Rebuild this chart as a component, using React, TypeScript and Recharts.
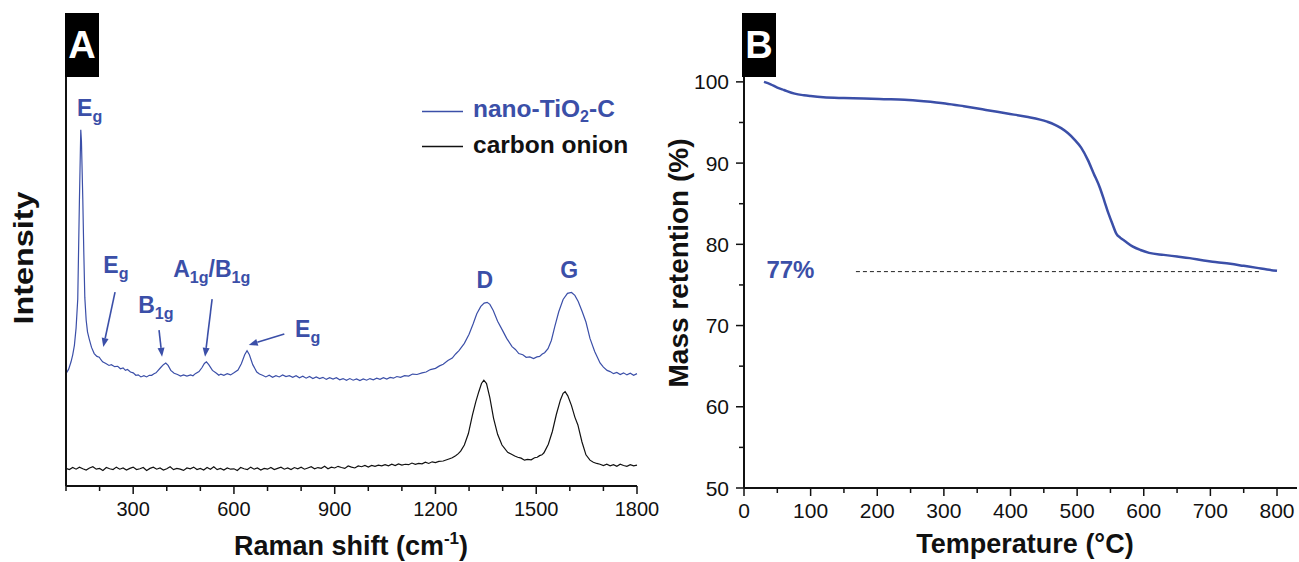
import { LineChart, Line, XAxis, YAxis, ReferenceLine, ReferenceDot } from 'recharts'

const BLUE = '#3b4fa8'
const FONT = "'Liberation Sans', Arial, Helvetica, sans-serif"

// Raman spectra — shift in cm-1, intensity in arbitrary units (stacked)
const tioShift = [
  100, 108, 115, 120, 125, 130, 135, 140, 144, 146, 150, 153, 156, 160, 164, 169, 176, 184, 192, 199,
  204, 209, 220, 228, 235, 245, 254, 262, 270, 277, 283, 292, 300, 308, 315, 323, 332, 340, 348, 355,
  362, 368, 382, 390, 397, 404, 412, 422, 432, 441, 450, 460, 471, 478, 485, 496, 505, 512, 518, 525,
  536, 548, 555, 561, 570, 580, 590, 600, 612, 622, 632, 639, 646, 656, 668, 676, 685, 695, 705, 715,
  725, 735, 745, 755, 765, 775, 785, 795, 805, 815, 825, 835, 845, 855, 865, 875, 885, 895, 905, 915,
  925, 935, 945, 955, 965, 975, 985, 995, 1005, 1015, 1025, 1035, 1045, 1055, 1065, 1075, 1085, 1096, 1108, 1120,
  1132, 1145, 1160, 1172, 1185, 1200, 1212, 1223, 1237, 1250, 1260, 1270, 1286, 1300, 1312, 1323, 1335, 1345, 1354, 1362,
  1372, 1385, 1398, 1412, 1428, 1438, 1448, 1460, 1470, 1481, 1492, 1502, 1510, 1518, 1525, 1535, 1545, 1555, 1567, 1580,
  1593, 1605, 1615, 1625, 1637, 1648, 1660, 1674, 1690, 1700, 1711, 1720, 1730, 1740, 1750, 1760, 1770, 1780, 1790, 1800,
]
const tioIntensity = [
  27.4, 28.5, 30.3, 32.0, 34.3, 38.5, 45.6, 69.9, 86.9, 84.0, 70.0, 57.0, 46.0, 40.5, 37.6, 35.9, 33.8, 32.3, 31.6, 31.4,
  30.8, 30.3, 29.8, 29.4, 29.6, 29.1, 29.2, 28.6, 28.8, 28.2, 28.4, 27.8, 27.6, 27.0, 27.1, 26.6, 26.9, 26.6, 27.0, 27.0,
  27.4, 27.6, 28.9, 29.6, 30.0, 29.4, 28.2, 27.5, 27.2, 26.8, 27.1, 26.8, 27.1, 26.9, 27.4, 27.9, 28.9, 29.9, 30.3, 29.6,
  28.2, 27.5, 27.0, 27.3, 27.0, 27.4, 27.1, 27.6, 28.3, 29.8, 32.0, 33.0, 32.0, 29.6, 27.8, 27.3, 27.0, 26.6, 27.0, 26.5,
  26.9, 26.6, 27.1, 26.7, 26.9, 26.5, 26.9, 26.4, 26.8, 26.3, 26.7, 26.2, 26.6, 26.2, 26.5, 26.0, 26.4, 26.1, 26.4, 25.9,
  26.2, 25.8, 26.2, 25.8, 26.1, 25.7, 26.1, 25.8, 26.2, 25.9, 26.3, 26.0, 26.4, 26.1, 26.5, 26.3, 26.7, 26.5, 26.9, 26.8,
  27.3, 27.2, 27.6, 27.8, 28.4, 28.7, 29.3, 29.7, 30.6, 31.2, 32.2, 33.0, 34.8, 37.0, 39.5, 42.0, 43.8, 44.6, 44.8, 44.3,
  42.8, 40.2, 38.2, 36.0, 34.0, 33.3, 32.3, 32.0, 31.4, 31.5, 31.1, 31.5, 31.6, 32.2, 32.5, 33.5, 35.5, 38.8, 42.5, 45.5,
  47.0, 47.2, 46.5, 45.0, 42.5, 40.0, 36.0, 32.8, 30.0, 29.0, 28.2, 27.9, 27.4, 27.7, 27.2, 27.6, 27.1, 27.5, 27.0, 27.4,
]
const onionShift = [
  100, 110, 120, 130, 140, 150, 160, 170, 180, 190, 200, 210, 220, 230, 240, 250, 260, 270, 280, 290,
  300, 310, 320, 330, 340, 350, 360, 370, 380, 390, 400, 410, 420, 430, 440, 450, 460, 470, 480, 490,
  500, 510, 520, 530, 540, 550, 560, 570, 580, 590, 600, 610, 620, 630, 640, 650, 660, 670, 680, 690,
  700, 710, 720, 730, 740, 750, 760, 770, 780, 790, 800, 810, 820, 830, 840, 850, 860, 870, 880, 890,
  900, 910, 920, 930, 940, 950, 960, 970, 980, 990, 1000, 1010, 1020, 1030, 1040, 1050, 1060, 1070, 1080, 1090,
  1100, 1110, 1120, 1130, 1140, 1150, 1160, 1170, 1180, 1190, 1200, 1210, 1223, 1240, 1250, 1260, 1268, 1275, 1286, 1298,
  1310, 1320, 1329, 1337, 1344, 1352, 1362, 1373, 1385, 1398, 1415, 1425, 1436, 1445, 1455, 1465, 1474, 1485, 1495, 1503,
  1510, 1517, 1523, 1536, 1548, 1560, 1572, 1580, 1586, 1594, 1605, 1615, 1624, 1636, 1648, 1660, 1670, 1680, 1690, 1700,
  1710, 1720, 1730, 1740, 1750, 1760, 1770, 1780, 1790, 1800,
]
const onionIntensity = [
  4.3, 4.0, 4.5, 4.1, 4.6, 4.2, 3.9, 4.4, 4.7, 4.1, 4.3, 3.8, 4.5, 4.2, 4.0, 4.6, 4.1, 4.4, 3.9, 4.3,
  4.6, 4.0, 4.2, 4.5, 3.8, 4.3, 4.6, 4.1, 4.4, 3.9, 4.2, 4.7, 4.0, 4.3, 4.1, 3.8, 4.4, 4.2, 4.6, 4.0,
  4.3, 3.9, 4.5, 4.1, 4.7, 4.0, 4.3, 3.9, 4.4, 4.1, 4.2, 3.8, 4.5, 4.2, 4.0, 4.6, 4.1, 4.4, 3.9, 4.3,
  4.1, 4.5, 4.0, 4.3, 4.6, 4.1, 4.4, 4.0, 4.5, 4.2, 4.6, 4.1, 4.4, 4.7, 4.2, 4.5, 4.3, 4.8, 4.2, 4.6,
  4.4, 4.8, 4.5, 4.3, 4.9, 4.6, 4.4, 4.9, 4.7, 5.0, 4.6, 5.0, 4.8, 5.1, 4.9, 5.2, 4.9, 5.3, 5.0, 5.4,
  5.1, 5.3, 5.2, 5.6, 5.3, 5.5, 5.4, 5.8, 5.5, 5.9, 5.7, 6.0, 6.1, 6.6, 6.9, 7.4, 7.9, 8.5, 10.0, 12.8,
  17.3, 20.5, 23.0, 25.0, 25.8, 25.0, 21.5, 16.5, 12.6, 10.0, 8.2, 7.8, 7.3, 7.0, 6.8, 6.3, 6.5, 6.4, 6.9, 7.0,
  7.4, 7.6, 8.1, 10.2, 13.3, 17.5, 21.0, 22.6, 23.0, 22.0, 19.6, 16.8, 14.9, 10.8, 7.6, 6.3, 5.8, 5.5, 5.3, 5.0,
  5.3, 4.9, 5.2, 4.8, 5.3, 5.0, 4.8, 5.2, 4.9, 5.1,
]

// TGA — temperature in °C, mass retention in %
const tgaTemp = [
  30, 40, 50, 60, 76, 90, 100, 119, 150, 180, 210, 241, 270, 302, 330, 363, 395, 424, 455, 466,
  476, 486, 496, 506, 516, 525, 534, 541, 547, 553, 559, 565, 571, 583, 595, 608, 630, 650, 669, 690,
  710, 730, 750, 770, 785, 800,
]
const tgaMass = [
  100, 99.7, 99.3, 99.0, 98.55, 98.35, 98.25, 98.1, 98.0, 97.94, 97.87, 97.8, 97.62, 97.35, 97.0, 96.55, 96.1, 95.7, 95.1, 94.75,
  94.3, 93.7, 92.9, 91.9, 90.4, 88.7, 87.0, 85.3, 83.8, 82.5, 81.3, 80.8, 80.45, 79.75, 79.3, 78.95, 78.7, 78.5, 78.3, 78.0,
  77.8, 77.6, 77.35, 77.1, 76.9, 76.75,
]
const residue = 76.64
const residueFrom = 168
const residueTo = 776

const ramanTicks = [100, 200, 300, 400, 500, 600, 700, 800, 900, 1000, 1100, 1200, 1300, 1400, 1500, 1600, 1700, 1800]
const ramanLabels = [300, 600, 900, 1200, 1500, 1800]
const tempTicks = [0, 50, 100, 150, 200, 250, 300, 350, 400, 450, 500, 550, 600, 650, 700, 750, 800]
const tempLabels = [0, 100, 200, 300, 400, 500, 600, 700, 800]
const massTicks = [50, 55, 60, 65, 70, 75, 80, 85, 90, 95, 100]
const massLabels = [50, 60, 70, 80, 90, 100]

// peak assignments: [text, subscript] pairs
const peakLabels = [
  { x: 133, y: 90.2, anchor: 'start', parts: [['E', 'g']] },
  { x: 211, y: 52, anchor: 'start', parts: [['E', 'g']] },
  { x: 315, y: 42.2, anchor: 'start', parts: [['B', '1g']] },
  { x: 419, y: 51, anchor: 'start', parts: [['A', '1g'], ['/B', '1g']] },
  { x: 782, y: 36.3, anchor: 'start', parts: [['E', 'g']] },
  { x: 1347, y: 48.3, anchor: 'middle', parts: [['D', '']] },
  { x: 1598, y: 50.7, anchor: 'middle', parts: [['G', '']] },
]
const peakArrows = [
  { from: [246, 47.3], to: [211, 33.9] },
  { from: [377, 38], to: [386, 31.5] },
  { from: [535, 45.6], to: [514, 31.5] },
  { from: [750, 37.1], to: [644, 34.4] },
]

const tioData = tioShift.map((x, i) => ({ x, y: tioIntensity[i] }))
const onionData = onionShift.map((x, i) => ({ x, y: onionIntensity[i] }))
const tgaData = tgaTemp.map((x, i) => ({ x, y: tgaMass[i] }))

function BottomTick({ x, y, payload, labels, fontSize }: any) {
  const major = labels.includes(payload.value)
  return (
    <g>
      <line x1={x} y1={y} x2={x} y2={y + (major ? 8 : 5)} stroke="#111" strokeWidth={1.5} />
      {major && (
        <text x={x} y={y + 30} textAnchor="middle" fontSize={fontSize} fontFamily={FONT} fill="#111">
          {payload.value}
        </text>
      )}
    </g>
  )
}

function LeftTick({ x, y, payload }: any) {
  const major = massLabels.includes(payload.value)
  return (
    <g>
      <line x1={x} y1={y} x2={x - (major ? 8 : 5)} y2={y} stroke="#111" strokeWidth={1.5} />
      {major && (
        <text x={x - 15} y={y + 7.5} textAnchor="end" fontSize={21} fontFamily={FONT} fill="#111">
          {payload.value}
        </text>
      )}
    </g>
  )
}

function PeakText({ cx, cy, parts, anchor, size = 23 }: any) {
  const out: any[] = []
  parts.forEach(([m, s]: string[], i: number) => {
    const prevSub = i > 0 && parts[i - 1][1]
    out.push(<tspan key={'m' + i} dy={prevSub ? -6 : 0}>{m}</tspan>)
    if (s) out.push(<tspan key={'s' + i} dy={6} fontSize={size * 0.7}>{s}</tspan>)
  })
  return (
    <text x={cx} y={cy} textAnchor={anchor} fontSize={size} fontWeight="bold" fontFamily={FONT} fill={BLUE}>
      {out}
    </text>
  )
}

function Arrow({ x1, y1, x2, y2 }: any) {
  const a = Math.atan2(y2 - y1, x2 - x1)
  const L = 9, W = 3.5
  const bx = x2 - L * Math.cos(a), by = y2 - L * Math.sin(a)
  const pts = `${x2},${y2} ${bx + W * Math.sin(a)},${by - W * Math.cos(a)} ${bx - W * Math.sin(a)},${by + W * Math.cos(a)}`
  return (
    <g>
      <line x1={x1} y1={y1} x2={bx} y2={by} stroke={BLUE} strokeWidth={1.6} />
      <polygon points={pts} fill={BLUE} />
    </g>
  )
}

function PanelTag({ left, letter }: { left: number; letter: string }) {
  return (
    <div style={{
      position: 'absolute', left, top: 13, width: 34, height: 64, background: '#000', color: '#fff',
      fontFamily: FONT, fontWeight: 'bold', fontSize: 38, lineHeight: '64px', textAlign: 'center',
    }}>
      {letter}
    </div>
  )
}

export default function App() {
  return (
    <div style={{ position: 'fixed', left: 0, top: 0, width: 1299, height: 562, background: '#fff', overflow: 'hidden' }}>
      {/* A: Raman */}
      <div style={{ position: 'absolute', left: 0, top: 0 }}>
        <LineChart width={660} height={562} margin={{ top: 76, right: 23, left: 26, bottom: 0 }}>
          <XAxis
            type="number" dataKey="x" domain={[100, 1800]} ticks={ramanTicks} interval={0}
            height={76} tickSize={0} tickMargin={0} tickLine={false}
            axisLine={{ stroke: '#111', strokeWidth: 2 }}
            tick={<BottomTick labels={ramanLabels} fontSize={20} />}
          />
          <YAxis type="number" domain={[0, 100]} width={40} tick={false} tickLine={false} axisLine={{ stroke: '#111', strokeWidth: 2 }} />
          <Line data={onionData} dataKey="y" stroke="#111" strokeWidth={1.2} dot={false} type="linear" isAnimationActive={false} />
          <Line data={tioData} dataKey="y" stroke={BLUE} strokeWidth={1.2} dot={false} type="linear" isAnimationActive={false} />
          {peakArrows.map((a, i) => (
            <ReferenceLine
              key={'a' + i}
              segment={[{ x: a.from[0], y: a.from[1] }, { x: a.to[0], y: a.to[1] }]}
              shape={(p: any) => <Arrow {...p} />}
            />
          ))}
          {peakLabels.map((l, i) => (
            <ReferenceDot
              key={'l' + i} x={l.x} y={l.y} r={0}
              shape={(p: any) => <PeakText cx={p.cx} cy={p.cy} parts={l.parts} anchor={l.anchor} />}
            />
          ))}
        </LineChart>
      </div>

      {/* B: TGA */}
      <div style={{ position: 'absolute', left: 660, top: 0 }}>
        <LineChart width={639} height={562} margin={{ top: 77, right: 2, left: 0, bottom: 0 }}>
          <XAxis
            type="number" dataKey="x" domain={[0, 830]} ticks={tempTicks} interval={0}
            height={74} tickSize={0} tickMargin={0} tickLine={false}
            axisLine={{ stroke: '#111', strokeWidth: 2 }}
            tick={<BottomTick labels={tempLabels} fontSize={21} />}
          />
          <YAxis
            type="number" domain={[50, 100.6]} ticks={massTicks} interval={0} width={84}
            tickSize={0} tickMargin={0} tickLine={false}
            axisLine={{ stroke: '#111', strokeWidth: 2 }}
            tick={<LeftTick />}
          />
          <ReferenceLine
            segment={[{ x: residueFrom, y: residue }, { x: residueTo, y: residue }]}
            stroke="#222" strokeWidth={1} strokeDasharray="4 3"
          />
          <Line data={tgaData} dataKey="y" stroke={BLUE} strokeWidth={2.5} dot={false} type="monotone" isAnimationActive={false} />
          <ReferenceDot
            x={33.6} y={75.86} r={0}
            shape={(p: any) => <PeakText cx={p.cx} cy={p.cy} parts={[['77%', '']]} anchor="start" size={24} />}
          />
        </LineChart>
      </div>

      <PanelTag left={65} letter="A" />
      <PanelTag left={742} letter="B" />

      {/* titles and legend */}
      <svg width={1299} height={562} style={{ position: 'absolute', left: 0, top: 0, pointerEvents: 'none' }}>
        <g fontFamily={FONT} fontWeight="bold" fill="#111">
          <text x={351} y={555} fontSize={27} textAnchor="middle">
            Raman shift (cm<tspan dy={-11} fontSize={17}>-1</tspan><tspan dy={11}>)</tspan>
          </text>
          <text transform="translate(33,258) rotate(-90) scale(1.2,1)" fontSize={27} textAnchor="middle">Intensity</text>
          <text x={1025} y={553} fontSize={27} textAnchor="middle">Temperature (°C)</text>
          <text transform="translate(688,263) rotate(-90)" fontSize={28} textAnchor="middle">Mass retention (%)</text>
        </g>
        <line x1={422} y1={111.5} x2={463} y2={111.5} stroke={BLUE} strokeWidth={1.5} />
        <text x={473} y={117} fontFamily={FONT} fontWeight="bold" fontSize={24.5} fill={BLUE}>
          nano-TiO<tspan dy={5} fontSize={16}>2</tspan><tspan dy={-5}>-C</tspan>
        </text>
        <line x1={422} y1={146.5} x2={463} y2={146.5} stroke="#111" strokeWidth={1.5} />
        <text x={473} y={152.5} fontFamily={FONT} fontWeight="bold" fontSize={24.5} fill="#111">carbon onion</text>
      </svg>
    </div>
  )
}
